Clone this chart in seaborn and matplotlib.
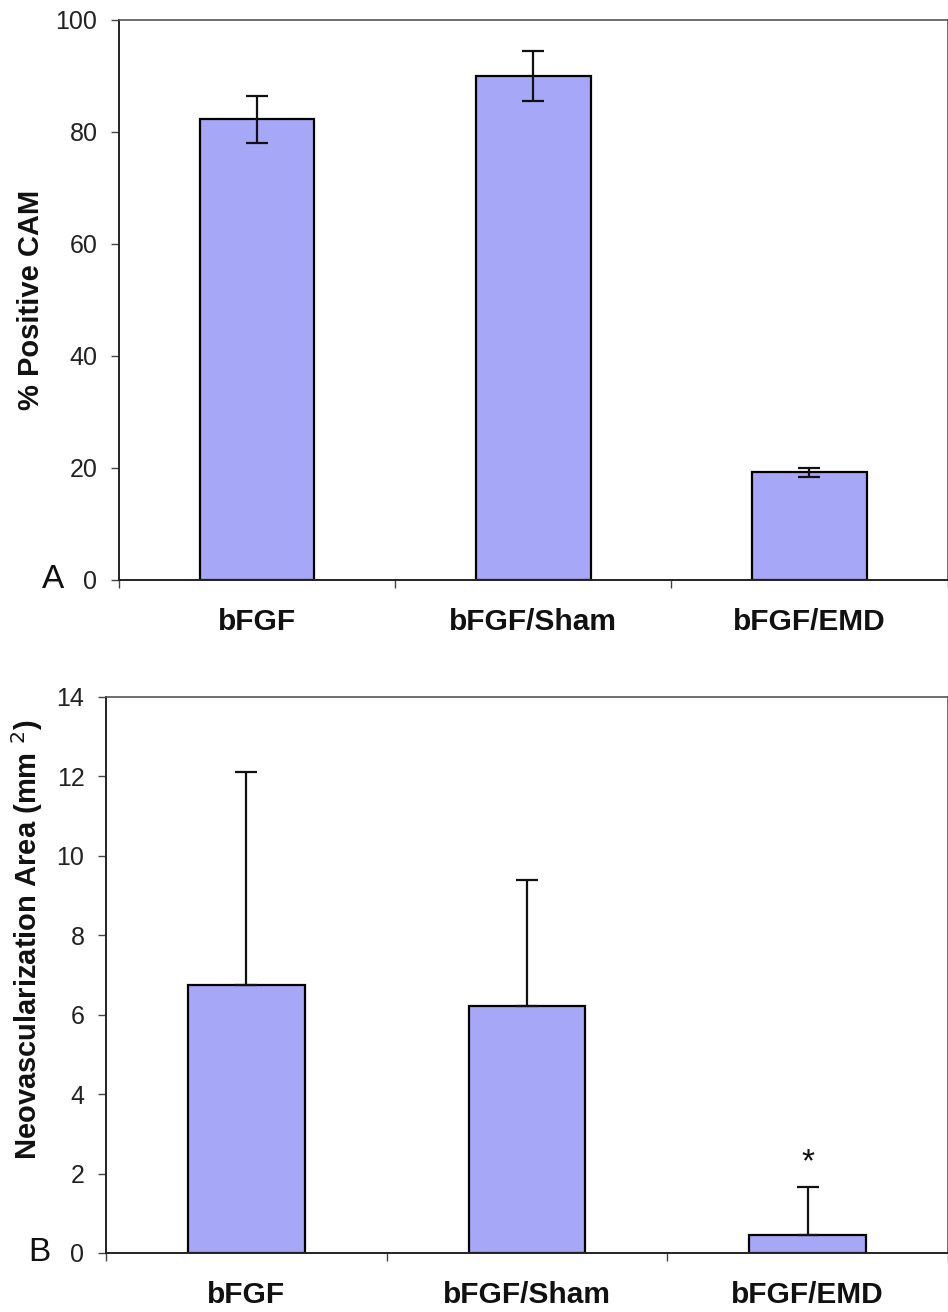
import matplotlib
matplotlib.use("Agg")
import matplotlib.pyplot as plt
import seaborn as sns
import pandas as pd
import numpy as np

categories = ["bFGF", "bFGF/Sham", "bFGF/EMD"]
positive_cam = [82.3, 90.0, 19.2]
positive_cam_err = [4.2, 4.5, 0.8]
neo_area = [6.75, 6.22, 0.45]
neo_area_err = [5.35, 3.18, 1.22]
top_yticks = [0, 20, 40, 60, 80, 100]
bottom_yticks = [0, 2, 4, 6, 8, 10, 12, 14]

sns.set_theme(style="white")
plt.rcParams['font.family'] = ['Liberation Sans', 'DejaVu Sans']

BAR = "#a6a7f6"
fig = plt.figure(figsize=(9.48, 13.12), dpi=100)
ax1 = fig.add_axes([0.1255, 0.558, 0.874, 0.4268])
ax2 = fig.add_axes([0.1118, 0.045, 0.888, 0.4238])

df1 = pd.DataFrame({"cat": categories, "val": positive_cam})
df2 = pd.DataFrame({"cat": categories, "val": neo_area})

for ax, df, err, ticks, ymax, lower in [
    (ax1, df1, positive_cam_err, top_yticks, 100, True),
    (ax2, df2, neo_area_err, bottom_yticks, 14, False),
]:
    sns.barplot(data=df, x="cat", y="val", order=categories, color=BAR,
                width=0.415, edgecolor="black", linewidth=1.6, errorbar=None,
                saturation=1, ax=ax)
    xs = [p.get_x() + p.get_width() / 2 for p in ax.patches]
    hs = [p.get_height() for p in ax.patches]
    if lower:
        yerr = [err, err]
    else:
        yerr = [np.zeros(len(err)), err]
    ax.errorbar(xs, hs, yerr=yerr, fmt="none", ecolor="#111111",
                elinewidth=1.6, capsize=8, capthick=1.6, zorder=5)
    ax.set_xlim(-0.5, 2.5)
    ax.set_ylim(0, ymax)
    ax.set_yticks(ticks)
    ax.set_xlabel("")
    ax.set_xticks(range(len(categories)))
    ax.set_xticklabels(categories, fontsize=21.5, fontweight="bold", color="#111111")
    ax.set_xticks([-0.5, 0.5, 1.5, 2.5], minor=True)
    ax.tick_params(axis="x", which="major", length=0, pad=20)
    ax.tick_params(axis="x", which="minor", length=6, width=1, color="#444444",
                   direction="out", bottom=True)
    ax.tick_params(axis="y", which="major", length=6, width=1, color="#444444",
                   direction="out", left=True, labelsize=18, labelcolor="#222222", pad=9.5)
    for s in ["left", "bottom"]:
        ax.spines[s].set_color("#222222")
        ax.spines[s].set_linewidth(1.4)
    for s in ["top", "right"]:
        ax.spines[s].set_color("#555555")
        ax.spines[s].set_linewidth(1.2)

ax1.set_ylabel("% Positive CAM", fontsize=21, fontweight="bold", color="#111111")
ax1.yaxis.set_label_coords(-0.089, 0.5)
ax2.set_ylabel("Neovascularization Area (mm $^{2}$)", fontsize=21, fontweight="bold",
               color="#111111")
ax2.yaxis.set_label_coords(-0.073, 0.563)

# significance marker above the EMD bar
ax2.text(2, neo_area[2] + neo_area_err[2] + 0.2, "*", ha="center", va="bottom",
         fontsize=24, color="#111111")

fig.text(0.056, 0.558, "A", fontsize=24, ha="center", va="center", color="#111111")
fig.text(0.042, 0.045, "B", fontsize=24, ha="center", va="center", color="#111111")

fig.savefig("out.png", dpi=100, facecolor="white")
